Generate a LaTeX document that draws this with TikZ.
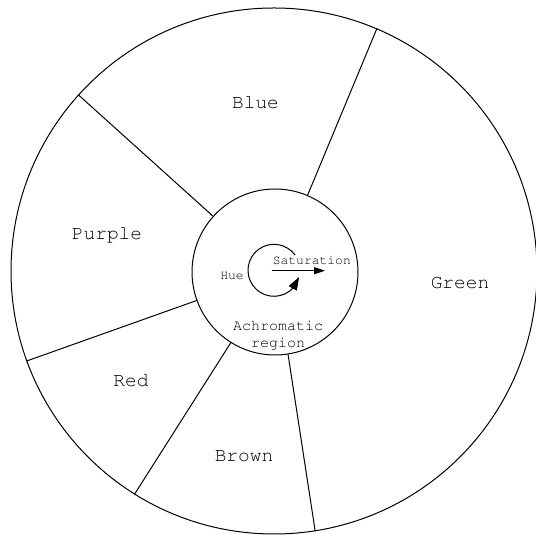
\documentclass[tikz,border=0pt]{standalone}
\usepackage[T1]{fontenc}
\usepackage{courier}
\usetikzlibrary{arrows.meta,bending}

\begin{document}
\begin{tikzpicture}[x=1pt, y=1pt,
  ring/.style={circle, draw, line width=1pt, inner sep=0pt},
  spoke/.style={line width=1pt},
  huename/.style={font=\ttfamily\fontsize{19.5}{22}\selectfont, anchor=base, inner sep=0pt},
  tiny/.style={font=\ttfamily\fontsize{13}{15}\selectfont, anchor=base, inner sep=0pt},
  arr/.style={-{Triangle[length=11pt, width=7pt]}, line width=1pt}
]
  \useasboundingbox (0,0) rectangle (536,535);
  \node[ring, minimum size=526pt] (wheel) at (274,264) {};
  \node[ring, minimum size=166pt] (core) at (275,263) {};
  \draw[spoke] (core.67) -- (wheel.67);
  \draw[spoke] (core.138) -- (wheel.138);
  \draw[spoke] (core.200) -- (wheel.200);
  \draw[spoke] (core.238) -- (wheel.238);
  \draw[spoke] (core.279) -- (wheel.279);
  \node[huename] (blue) at (255.5,426.7) {Blue};
  \node[huename] (purple) at (107,295.7) {Purple};
  \node[huename] (green) at (460,246.3) {Green};
  \node[huename] (red) at (131,148.7) {Red};
  \node[huename] (brown) at (244,73) {Brown};
  \node[font=\ttfamily\fontsize{15}{17.3}\selectfont, align=center, inner sep=0pt] (achro) at (278,199.6) {Achromatic\\region};
  \node[tiny] (sat) at (311.8,270) {Saturation};
  \node[tiny] (hue) at (232,255.7) {Hue};
  \coordinate (hub) at (274,264.7);
  \coordinate (sattip) at (325,264.3);
  \draw[arr] (271.7,264.3) -- (sattip);
  \draw[arr, -{Triangle[length=13pt, width=9pt]}] (hub) ++(36:26) arc[start angle=36, end angle=345, radius=26];
\end{tikzpicture}
\end{document}
